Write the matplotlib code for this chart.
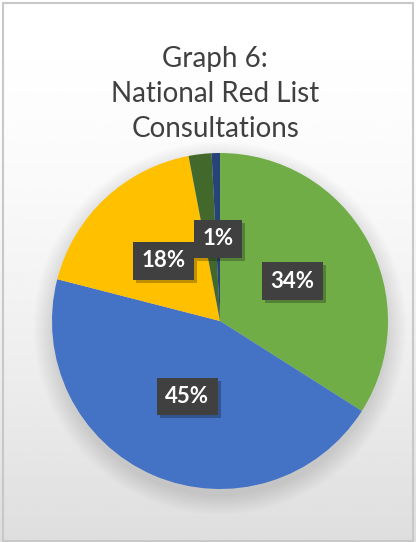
import numpy as np
import matplotlib.pyplot as plt
from matplotlib.patches import Rectangle, Ellipse

plt.rcParams['font.family'] = ['Lato', 'DejaVu Sans']

# data
categories = ['A', 'B', 'C', 'D', 'E']
values = [34, 45, 18, 2.2, 0.8]
labels = ['34%', '45%', '18%', '', '1%']
colors = ['#70AD47', '#4472C4', '#FFC000', '#43682B', '#264478']
title = 'Graph 6:\nNational Red List\nConsultations'

W, H = 416, 542
fig = plt.figure(figsize=(W / 100, H / 100), dpi=100)

# background gradient
bg = fig.add_axes([0, 0, 1, 1])
yy = np.linspace(0, 1, 200)[:, None] * np.ones((1, 10))
grad = 1.0 - 0.13 * yy ** 1.6
bg.imshow(grad, cmap='gray', vmin=0, vmax=1, aspect='auto', extent=[0, W, H, 0])
bg.set_xlim(0, W)
bg.set_ylim(H, 0)
bg.axis('off')
# soft shadow under pie
for i in range(10):
    bg.add_patch(Ellipse((220, 328), 336 + i * 4, 336 + i * 4, color='black',
                         alpha=0.012, lw=0))
bg.add_patch(Rectangle((3, 3), W - 6, H - 4, fill=False, ec='#c8c8c8', lw=1.5))

fig.text(0.517, 1 - 94 / H, title, ha='center', va='center', fontsize=20,
         color='#404040', linespacing=1.45)

# pie
cx, cy, r = 220, 321, 168
ax = fig.add_axes([(cx - r) / W, 1 - (cy + r) / H, 2 * r / W, 2 * r / H])
wedges, texts = ax.pie(values, colors=colors, startangle=90, counterclock=False,
                       labels=labels, labeldistance=0.49,
                       wedgeprops=dict(lw=0))
for t in texts:
    t.set_color('white')
    t.set_fontweight('bold')
    t.set_fontsize(16)
    t.set_ha('center')
    t.set_va('center')
    t.set_zorder(5)
    if t.get_text():
        t.set_bbox(dict(boxstyle='square,pad=0.38', fc='#404040', ec='none'))
ax.set_xlim(-1, 1)
ax.set_ylim(-1, 1)
ax.set_aspect('equal')

# drop shadow behind each label box
fig.canvas.draw()
for t in texts:
    if not t.get_text():
        continue
    bb = t.get_bbox_patch().get_window_extent()
    sh = Rectangle((bb.x0 + 3, bb.y0 - 3), bb.width, bb.height,
                   transform=None, fc='black', alpha=0.25, ec='none', zorder=4)
    ax.add_artist(sh)

fig.savefig('out.png', dpi=100)
